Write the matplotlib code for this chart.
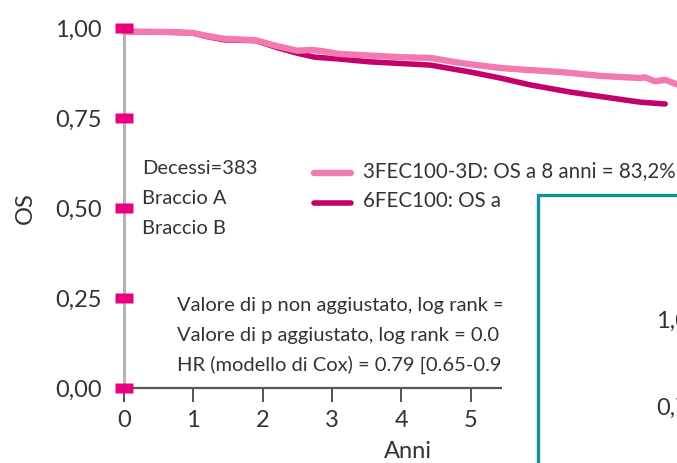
import matplotlib.pyplot as plt
from matplotlib.patches import Rectangle
from matplotlib.path import Path

plt.rcParams['font.family'] = ['Lato', 'DejaVu Sans']

# overall survival curves (years, OS)
anni_a = [0.0, 0.6, 1.0, 1.2, 1.45, 1.9, 2.2, 2.5, 2.7, 2.85, 3.1, 3.98, 4.42, 4.85,
          5.43, 5.86, 6.29, 6.87, 7.16, 7.45, 7.52, 7.66, 7.81, 8.0]
os_a = [0.990, 0.989, 0.986, 0.978, 0.970, 0.966, 0.950, 0.937, 0.939, 0.936, 0.928,
        0.919, 0.917, 0.903, 0.889, 0.883, 0.878, 0.867, 0.864, 0.861, 0.863, 0.852,
        0.856, 0.842]

anni_b = [0.0, 0.6, 1.0, 1.2, 1.45, 1.9, 2.2, 2.5, 2.75, 3.1, 3.55, 4.42, 4.99, 5.43,
          5.86, 6.44, 7.01, 7.45, 7.81]
os_b = [0.990, 0.989, 0.986, 0.976, 0.967, 0.965, 0.946, 0.930, 0.919, 0.914, 0.906,
        0.897, 0.878, 0.861, 0.842, 0.822, 0.806, 0.794, 0.789]

y_ticks = [0.0, 0.25, 0.5, 0.75, 1.0]
y_labels = ["0,00", "0,25", "0,50", "0,75", "1,00"]
x_ticks = [0, 1, 2, 3, 4, 5, 6, 7, 8]

label_a = "3FEC100-3D: OS a 8 anni = 83,2%"
label_b = "6FEC100: OS a"
info_left = ["Decessi=383", "Braccio A", "Braccio B"]
stats = ["Valore di p non aggiustato, log rank =",
         "Valore di p aggiustato, log rank = 0.0",
         "HR (modello di Cox) = 0.79 [0.65-0.9"]

col_a = "#F27AB0"
col_b = "#C4006C"
magenta = "#E8007E"
txt = "#333333"

W, H = 677, 463
fig = plt.figure(figsize=(W / 100, H / 100), dpi=100)

# axes placed in pixel terms: x=0 at 124 px, 69.3 px per year; y 0..1 over 360 px
x_max = 8.2
ax = fig.add_axes([124 / W, 75 / H, x_max * 69.3 / W, 360 / H])
ax.set_xlim(0, x_max)
ax.set_ylim(0, 1)

ax.plot(anni_a, os_a, color=col_a, lw=4.6, solid_capstyle="round", clip_on=False, zorder=3)
ax.plot(anni_b, os_b, color=col_b, lw=4.0, solid_capstyle="round", clip_on=False, zorder=2)

# flat magenta tick marks on the y axis
bar = Path([(-1, -0.55), (1, -0.55), (1, 0.55), (-1, 0.55), (-1, -0.55)])
ax.plot([0] * len(y_ticks), y_ticks, ls="none", marker=bar, markersize=12.5,
        color=magenta, mec="none", clip_on=False, zorder=5)

for s in ["top", "right"]:
    ax.spines[s].set_visible(False)
ax.spines["left"].set_color("#b3b3b3")
ax.spines["left"].set_linewidth(2.2)
ax.spines["left"].set_bounds(0, 1)
ax.spines["bottom"].set_color("#555555")
ax.spines["bottom"].set_linewidth(1.6)

ax.set_yticks(y_ticks)
ax.set_yticklabels(y_labels)
ax.tick_params(axis="y", length=0, labelsize=17, labelcolor=txt, pad=16)
ax.set_xticks(x_ticks)
ax.tick_params(axis="x", direction="out", length=10, width=1.3, color="#444444",
               labelsize=17, labelcolor=txt, pad=6)

ax.set_xlabel("Anni", fontsize=17, color=txt, labelpad=7)
ax.set_ylabel("OS", fontsize=17, color=txt, labelpad=14)

# text blocks in figure pixels (from top-left)
def ftext(x, y, s, size=14.5, **kw):
    fig.text(x / W, 1 - y / H, s, fontsize=size, color=txt, va="center", **kw)

for i, s in enumerate(info_left):
    ftext(142, 168 + 30 * i, s)
for i, s in enumerate(stats):
    ftext(177, 305 + 30 * i, s)

# legend drawn by hand
for y, c, lab in [(173, col_a, label_a), (203, col_b, label_b)]:
    fig.add_artist(plt.Line2D([314 / W, 351 / W], [1 - y / H, 1 - y / H], color=c,
                              lw=4.6 if c == col_a else 4.0, solid_capstyle="round"))
    ftext(363, y - 2, lab, size=14.8)

# overlapping inset panel
fig.add_artist(Rectangle((502 / W, 0), 1, 1 - 188 / H, transform=fig.transFigure,
                         facecolor="white", edgecolor="none", zorder=10))
fig.add_artist(Rectangle((538 / W, -0.1), 0.5, 1.1 - 195 / H, transform=fig.transFigure,
                         facecolor="white", edgecolor="#14919B", lw=2.4, zorder=11))
fig.text(656 / W, 1 - 321 / H, "1,00", fontsize=17, color=txt, va="center", zorder=12)
fig.text(656 / W, 1 - 408 / H, "0,75", fontsize=17, color=txt, va="center", zorder=12)

fig.savefig("out.png", dpi=100)
